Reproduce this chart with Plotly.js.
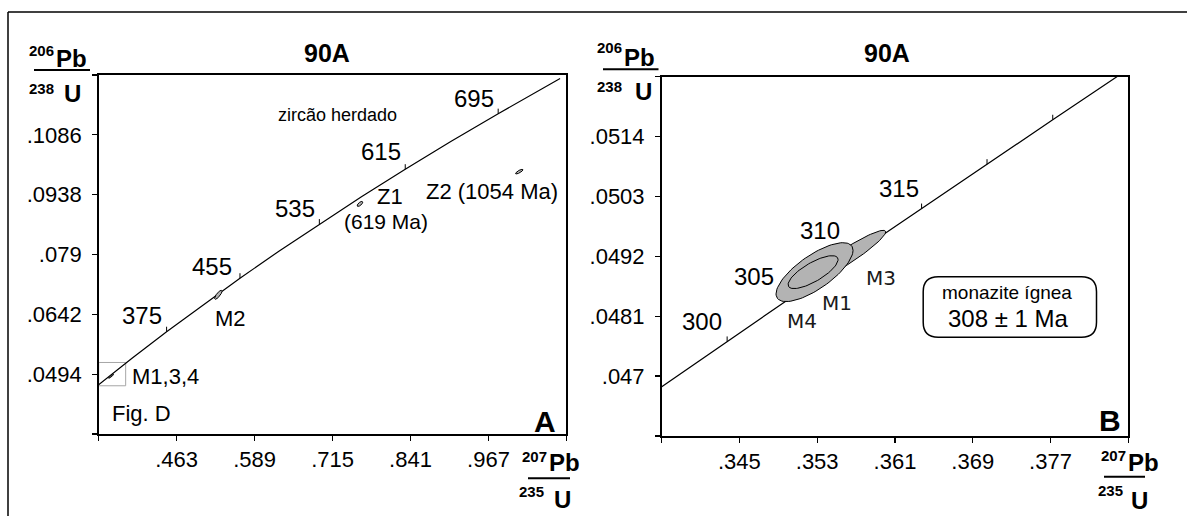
<!DOCTYPE html>
<html><head><meta charset="utf-8">
<script src="https://cdn.plot.ly/plotly-3.0.1.min.js"></script>
<style>html,body{margin:0;padding:0;background:#fff}</style>
</head><body><div id="chart" style="width:1187px;height:516px"></div>
<script>
// ---- Concordia points (age in Ma, 207Pb/235U, 206Pb/238U)
const concAge = [290, 295, 300, 305, 310, 315, 320, 325, 330, 335, 375, 415, 455, 495, 535, 575, 615, 655, 695, 745];
const concX = [0.33057, 0.33714, 0.34374, 0.35037, 0.35704, 0.36374, 0.37047, 0.37723, 0.38403, 0.39086, 0.44675, 0.50488, 0.56535, 0.62824, 0.69367, 0.76172, 0.83250, 0.90613, 0.98272, 1.08280];
const concY = [0.046013, 0.046825, 0.047637, 0.048450, 0.049264, 0.050078, 0.050893, 0.051709, 0.052524, 0.053341, 0.05990, 0.06649, 0.07313, 0.07981, 0.08653, 0.09330, 0.10010, 0.10695, 0.11384, 0.12251];

// age ticks on the concordia
const tickAgesA = [375, 455, 535, 615, 695];
const tickAgesB = [300, 305, 310, 315, 320, 325];

// ---- Panel A analyses (centre, 2-sigma half widths, correlation)
const ellNamesA = ['Z1', 'Z2', 'M2', 'M1,3,4'];
const ellCxA = [0.7593, 1.0168, 0.5303, 0.3570];
const ellCyA = [0.09152, 0.0995, 0.06903, 0.04890];
const ellSxA = [0.0046, 0.0060, 0.0060, 0.0040];
const ellSyA = [0.000625, 0.00057, 0.00111, 0.00050];
const ellRhoA = [0.68, 0.80, 0.80, 0.90];

// ---- Panel B analyses (drawing order M3, M4, M1)
const ellNamesB = ['M3', 'M4', 'M1'];
const ellCxB = [0.35597, 0.35273, 0.35258];
const ellCyB = [0.049194, 0.04891, 0.04891];
const ellSxB = [0.004075, 0.00396, 0.00257];
const ellSyB = [0.000484, 0.000541, 0.000302];
const ellRhoB = [0.94, 0.74, 0.76];

// ---- Axes ticks
const xTickA = [0.337, 0.463, 0.589, 0.715, 0.841, 0.967, 1.093];
const xTextA = ['', '.463', '.589', '.715', '.841', '.967', ''];
const yTickA = [0.0346, 0.0494, 0.0642, 0.079, 0.0938, 0.1086, 0.1234];
const yTextA = ['', '.0494', '.0642', '.079', '.0938', '.1086', ''];
const xTickB = [0.337, 0.345, 0.353, 0.361, 0.369, 0.377, 0.385];
const xTextB = ['', '.345', '.353', '.361', '.369', '.377', ''];
const yTickB = [0.0459, 0.047, 0.0481, 0.0492, 0.0503, 0.0514, 0.0525];
const yTextB = ['', '.047', '.0481', '.0492', '.0503', '.0514', ''];

// zoom box drawn in panel A
const zoomBoxX = [0.337, 0.3806];
const zoomBoxY = [0.04653, 0.05229];

// ---------------------------------------------------------------
const W = 1187, H = 516;
const FONT = 'Liberation Sans, Arial, sans-serif';
const px = v => v / W, py = v => 1 - v / H;

const domA = {x: [98.7, 566.4], y: [75, 434]};
const domB = {x: [661.6, 1128.3], y: [76.7, 436]};
const rangeA = {x: [0.337, 1.093], y: [0.0346, 0.1234]};
const rangeB = {x: [0.337, 0.385], y: [0.0459, 0.0525]};

function ellipse(cx, cy, sx, sy, rho) {
  const xs = [], ys = [], n = 90, k = Math.sqrt(1 - rho * rho);
  for (let i = 0; i <= n; i++) {
    const t = 2 * Math.PI * i / n;
    xs.push(cx + sx * Math.cos(t));
    ys.push(cy + sy * (rho * Math.cos(t) + k * Math.sin(t)));
  }
  return {xs, ys};
}

function ageTicks(ages, dom, rng, xa, ya) {
  const len = 5 * (rng.y[1] - rng.y[0]) / (dom.y[1] - dom.y[0]);
  const xs = [], ys = [];
  ages.forEach(a => {
    const i = concAge.indexOf(a);
    xs.push(concX[i], concX[i], null);
    ys.push(concY[i], concY[i] + len, null);
  });
  return {x: xs, y: ys, xaxis: xa, yaxis: ya, mode: 'lines', line: {color: '#000', width: 1}, hoverinfo: 'skip'};
}

const traces = [];
// concordia
traces.push({x: concX, y: concY, xaxis: 'x', yaxis: 'y', mode: 'lines', line: {color: '#000', width: 1.2}});
traces.push({x: concX, y: concY, xaxis: 'x2', yaxis: 'y2', mode: 'lines', line: {color: '#000', width: 1.2}});
traces.push(ageTicks(tickAgesA, domA, rangeA, 'x', 'y'));
traces.push(ageTicks(tickAgesB, domB, rangeB, 'x2', 'y2'));
ellNamesA.forEach((n, i) => {
  const e = ellipse(ellCxA[i], ellCyA[i], ellSxA[i], ellSyA[i], ellRhoA[i]);
  traces.push({x: e.xs, y: e.ys, xaxis: 'x', yaxis: 'y', mode: 'lines', fill: 'toself', fillcolor: '#b3b3b3', line: {color: '#000', width: 1}, name: n});
});
ellNamesB.forEach((n, i) => {
  const e = ellipse(ellCxB[i], ellCyB[i], ellSxB[i], ellSyB[i], ellRhoB[i]);
  traces.push({x: e.xs, y: e.ys, xaxis: 'x2', yaxis: 'y2', mode: 'lines', fill: 'toself', fillcolor: '#b3b3b3', line: {color: '#000', width: 1}, name: n});
});

function axis(dom, rng, vals, txt, anchor, isX) {
  return {
    domain: isX ? [px(dom.x[0]), px(dom.x[1])] : [py(dom.y[1]), py(dom.y[0])],
    range: isX ? rng.x : rng.y, anchor: anchor,
    tickmode: 'array', tickvals: vals, ticktext: txt,
    ticks: 'outside', ticklen: 5, tickwidth: 1.3, tickcolor: '#000',
    showline: true, mirror: true, linewidth: 1.6, linecolor: '#000',
    showgrid: false, zeroline: false, fixedrange: true,
    tickfont: {family: FONT, size: 22, color: '#000'},
    ticklabelstandoff: isX ? 0 : 6
  };
}

function ann(text, x, y, size, extra) {
  return Object.assign({xref: 'paper', yref: 'paper', x: px(x), y: py(y), xanchor: 'center', yanchor: 'middle',
    showarrow: false, borderpad: 0, text: text, font: {family: FONT, size: size, color: '#000'}}, extra || {});
}
const bold = (t) => '<b>' + t + '</b>';
const GEO = 'DejaVu Sans, Noto Sans, sans-serif';
const geoFont = {font: {family: GEO, size: 20, color: '#1a1a1a'}};

const annotations = [
  // titles
  ann(bold('90A'), 327, 53, 25), ann(bold('90A'), 887, 53, 25),
  // panel letters
  ann(bold('A'), 544.5, 421, 30), ann(bold('B'), 1109.6, 420, 30),
  // y axis labels
  ann(bold('206'), 41, 51, 15), ann(bold('Pb'), 71.5, 59, 24), ann(bold('238'), 41, 89, 15), ann(bold('U'), 72.7, 93, 24),
  ann(bold('206'), 609.6, 48, 15), ann(bold('Pb'), 639.5, 58, 24), ann(bold('238'), 609.6, 87, 15), ann(bold('U'), 643.3, 91.5, 24),
  // x axis labels
  ann(bold('207'), 534.5, 456.5, 15), ann(bold('Pb'), 564.5, 462.5, 24), ann(bold('235'), 531, 491.5, 15), ann(bold('U'), 562.5, 499, 24),
  ann(bold('207'), 1113.3, 455, 15), ann(bold('Pb'), 1143.3, 462.3, 24), ann(bold('235'), 1110, 490, 15), ann(bold('U'), 1139, 500, 24),
  // panel A texts
  ann('695', 473.6, 98, 24), ann('615', 380.8, 151.7, 24), ann('535', 294.7, 208.3, 24), ann('455', 212, 266.5, 24), ann('375', 142, 315, 24),
  ann('zircão herdado', 337, 115, 18),
  ann('Z1', 390, 196, 22), ann('Z2 (1054 Ma)', 492, 191, 22), ann('(619 Ma)', 386, 221.7, 21),
  ann('M2', 230, 318.3, 22), ann('M1,3,4', 165, 376, 22), ann('Fig. D', 141, 413.3, 22),
  // panel B texts
  ann('315', 899, 188.3, 24), ann('310', 820, 230, 24), ann('305', 754, 276.7, 24), ann('300', 702, 321.7, 24),
  ann('M3', 881, 278.3, 20, geoFont), ann('M1', 837.4, 302.7, 20, geoFont), ann('M4', 801.6, 320.7, 20, geoFont),
  ann('monazite ígnea', 1007, 292.5, 19), ann('308 ± 1 Ma', 1009, 318.5, 24)
];

function rrect(x0, y0, x1, y1, r) {
  const P = (x, y) => px(x) + ',' + py(y);
  return 'M' + P(x0 + r, y0) + ' L' + P(x1 - r, y0) + ' Q' + P(x1, y0) + ' ' + P(x1, y0 + r) +
    ' L' + P(x1, y1 - r) + ' Q' + P(x1, y1) + ' ' + P(x1 - r, y1) +
    ' L' + P(x0 + r, y1) + ' Q' + P(x0, y1) + ' ' + P(x0, y1 - r) +
    ' L' + P(x0, y0 + r) + ' Q' + P(x0, y0) + ' ' + P(x0 + r, y0) + ' Z';
}

const shapes = [
  // outer frame (top and left)
  {type: 'line', xref: 'paper', yref: 'paper', x0: px(8), x1: 1, y0: py(12), y1: py(12), line: {color: '#000', width: 1.5}},
  {type: 'line', xref: 'paper', yref: 'paper', x0: px(8), x1: px(8), y0: py(12), y1: 0, line: {color: '#000', width: 1.5}},
  // fraction bars
  {type: 'line', xref: 'paper', yref: 'paper', x0: px(34), x1: px(90), y0: py(70), y1: py(70), line: {color: '#000', width: 2}},
  {type: 'line', xref: 'paper', yref: 'paper', x0: px(603), x1: px(658.5), y0: py(69.3), y1: py(69.3), line: {color: '#000', width: 2}},
  {type: 'line', xref: 'paper', yref: 'paper', x0: px(528), x1: px(570), y0: py(478.3), y1: py(478.3), line: {color: '#000', width: 2}},
  {type: 'line', xref: 'paper', yref: 'paper', x0: px(1104), x1: px(1145), y0: py(476.7), y1: py(476.7), line: {color: '#000', width: 2}},
  // zoom box
  {type: 'rect', xref: 'x', yref: 'y', x0: zoomBoxX[0], x1: zoomBoxX[1], y0: zoomBoxY[0], y1: zoomBoxY[1], line: {color: '#a6a6a6', width: 1}, layer: 'below'},
  // age box B
  {type: 'path', xref: 'paper', yref: 'paper', path: rrect(923.2, 276.7, 1096.5, 337.3, 15), line: {color: '#000', width: 1.5}}
];

const layout = {
  width: W, height: H, margin: {l: 0, r: 0, t: 0, b: 0},
  paper_bgcolor: '#fff', plot_bgcolor: '#fff', showlegend: false,
  xaxis: axis(domA, rangeA, xTickA, xTextA, 'y', true),
  yaxis: axis(domA, rangeA, yTickA, yTextA, 'x', false),
  xaxis2: axis(domB, rangeB, xTickB, xTextB, 'y2', true),
  yaxis2: axis(domB, rangeB, yTickB, yTextB, 'x2', false),
  annotations: annotations, shapes: shapes,
  font: {family: FONT}
};

Plotly.newPlot('chart', traces, layout, {staticPlot: true, displayModeBar: false});
</script></body></html>
